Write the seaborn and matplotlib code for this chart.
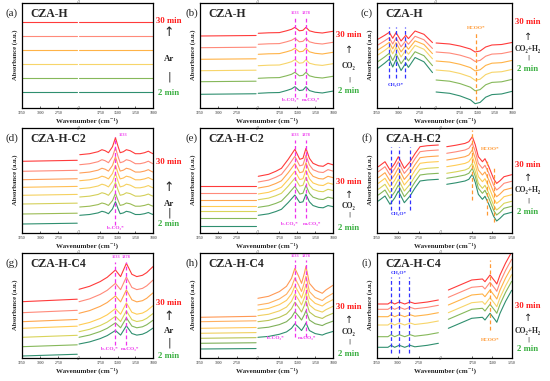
import matplotlib
matplotlib.use("Agg")
import matplotlib.pyplot as plt
import pandas as pd
import seaborn as sns

sns.set_style("white")
plt.rcParams["font.family"] = ["Liberation Serif", "DejaVu Serif"]

W, H = 550, 381
PH = 105  # panel height in px, y data runs 0..PH

# colours, top curve (30 min) first
COL6 = ["#ff3b3b", "#ff8a7a", "#ffb347", "#f7d56a", "#86b85a", "#2f8f6f"]
COL7 = ["#ff3b3b", "#ff8a7a", "#ffa64d", "#ffcc55", "#d9d45a", "#86b85a", "#2f8f6f"]
COL8 = ["#ff3b3b", "#ff8a7a", "#ff9f5a", "#ffbf55", "#f5d160", "#d4d05a", "#9cbc55", "#2f8f6f"]
COL7H = ["#ff9955", "#ffb060", "#ffc85a", "#f0d060", "#b9c455", "#7fb059", "#2f8f6f"]

# ---- (a) CZA-H, Ar
A_WN_L = [3250, 2490]
A_PR_L = [0, 0]
A_WN_R = [2045, 1000]
A_PR_R = [0, 0]
A_OFF_L = [86, 72, 58, 44, 30, 16]
A_OFF_R = [86, 72, 58, 44, 30, 16]
A_AMP = [1, 1, 1, 1, 1, 1]

# ---- (b) CZA-H, CO2
B_WN_L = [3250, 2490]
B_PR_L = [0, 0.5]
B_WN_R = [2045, 1900, 1750, 1650, 1580, 1533, 1470, 1420, 1378, 1330, 1250, 1150, 1000]
B_PR_R = [0, 0.5, 0.7, 2.5, 4, 6, 2.5, 3, 6, 2.5, 1, 0.3, 2]
B_OFF_L = [72, 60.3, 48.7, 37.3, 26.3, 13.7]
B_OFF_R = [74.7, 63.7, 53.7, 42.3, 29.7, 14.7]
B_AMP = [1, 1, 1, 1, 1, 1.1]

# ---- (c) CZA-H, CO2+H2
C_WN_L = [3240, 3200, 3160, 3106, 3066, 3027, 2968, 2913, 2882, 2804, 2700, 2600]
C_PR_L = [0, 2, 4, 7, 1, 6.7, -1.7, 4, 0.7, 8.3, 5, -3.3]
C_WN_R = [2095, 1900, 1750, 1600, 1532, 1460, 1380, 1290, 1150, 1000]
C_PR_R = [0, -1, -3, -6, -9, -8, -4, -2, -1.5, 0.5]
C_OFF_L = [68.7, 63, 58, 53, 46.3, 39.7]
C_OFF_R = [65, 56, 47, 38, 28, 16]
C_AMP = [1, 1.05, 1.1, 1.15, 1.2, 1.3]

# ---- (d) CZA-H-C2, Ar
D_WN_L = [3250, 2490]
D_PR_L = [0, 1]
D_WN_R = [2040, 1900, 1780, 1725, 1680, 1632, 1575, 1533, 1495, 1466, 1420, 1378,
          1325, 1250, 1184, 1120, 1066, 1030, 1000]
D_PR_R = [0, 1, 3, 5, 4, 2, 8, 17, 8, 2, 3, 5, 4, 1, 1, 2, 3.5, 2, 1]
D_OFF_L = [71.7, 61.7, 53.3, 45.7, 37.7, 29, 19, 9]
D_OFF_R = [78.3, 68.3, 60, 52.3, 44.3, 36, 26, 17.7]
D_AMP = [1, 1, 0.95, 0.9, 0.9, 0.85, 0.8, 0.8]

# ---- (e) CZA-H-C2, CO2
E_WN_L = [3250, 2490]
E_PR_L = [0, 0]
E_WN_R = [2045, 1900, 1800, 1721, 1626, 1533, 1465, 1420, 1378, 1330, 1279, 1200, 1138, 1070, 1000]
E_PR_R = [0, 2, 5, 8, 17, 27, 17, 18, 28, 18, 13, 10.5, 10, 13, 11.5]
E_OFF_L = [46.7, 40, 33.3, 26.7, 21.7, 15, 6.7]
E_OFF_R = [56.7, 51, 45, 39, 33.3, 25.7, 17.7]
E_AMP = [1.0, 0.95, 0.9, 0.85, 0.8, 0.78, 0.75]

# ---- (f) CZA-H-C2, CO2+H2
F_WN_L = [3234, 3155, 3095, 3040, 2996, 2925, 2857, 2798, 2738, 2650, 2520]
F_PR_L = [0, 5, -3.3, 3, 10, -1.7, 5, 13, 20, 21, 21.7]
F_WN_R = [2066, 1950, 1838, 1790, 1746, 1710, 1671, 1620, 1588, 1540, 1480, 1442, 1400, 1350, 1254]
F_PR_R = [0, 1.5, 3.3, 5, 10, 2, -10, -15, -12, -20, -32, -36.7, -34, -30, -28]
F_OFF_L = [66.3, 61.3, 55.3, 49.7, 43.7, 38, 32]
F_OFF_R = [86.3, 79.7, 73, 66.3, 59.7, 54.7, 48.7]
F_AMP = [1, 1, 1, 1, 1, 1, 1]

# ---- (g) CZA-H-C4, Ar
G_WN_L = [3250, 2490]
G_PR_L = [0, 2.5]
G_WN_R = [2050, 1900, 1750, 1650, 1533, 1460, 1378, 1300, 1230, 1150, 1089, 1000]
G_PR_R = [0, 3, 7.7, 12, 19.3, 12.7, 26, 15, 12.7, 14, 16.7, 22.7]
G_OFF_L = [56.3, 45.3, 36.3, 29.7, 20.7, 11.3, 2]
G_OFF_R = [68.7, 56.3, 44.7, 33, 26.3, 20.7, 14]
G_AMP = [1, 0.95, 0.9, 0.85, 0.8, 0.75, 0.7]

# ---- (h) CZA-H-C4, CO2
H_WN_L = [3250, 2490]
H_PR_L = [0, 1]
H_WN_R = [2050, 1900, 1750, 1650, 1580, 1533, 1480, 1440, 1400, 1378, 1330, 1250, 1150, 1100, 1000]
H_PR_R = [0, 2, 6.7, 12, 20, 30, 22, 15, 25, 32, 15, 8.3, 5, 8.3, 13]
H_OFF_L = [40.7, 36.3, 29.7, 24.7, 19.7, 14.7, 9]
H_OFF_R = [59.7, 53, 48, 42.3, 36.3, 29.7, 20.7]
H_AMP = [1.0, 0.9, 0.8, 0.72, 0.65, 0.55, 0.45]

# ---- (i) CZA-H-C4, CO2+H2
I_WN_L = [3240, 3120, 3083, 3040, 2985, 2920, 2857, 2800, 2650, 2520]
I_PR_L = [0, 0, 2, 0, 2, 0, 2, 0.5, 2, 4]
I_WN_R = [2046, 1900, 1754, 1620, 1588, 1525, 1460, 1440, 1400, 1330, 1254]
I_PR_R = [0, 5, 10, 11, 8.3, 15, 8.3, 6, 15, 27, 38]
I_OFF_L = [54, 48.7, 41.3, 33, 21.3, 10.7]
I_OFF_R = [68, 60.7, 53, 45.3, 38.7, 29.7]
I_AMP = [1, 1, 1, 1, 1, 1]

MAG, BLU, ORG = "#ee33ee", "#3333ff", "#ff9933"

fig = plt.figure(figsize=(W / 100, H / 100), dpi=100)


def ftext(x, y, s, **kw):
    fig.text(x / W, 1 - y / H, s, **kw)


def make_df(wn, prof, offs, amps):
    rows = []
    for k, (o, a) in enumerate(zip(offs, amps)):
        for w, p in zip(wn, prof):
            rows.append(("L%d" % k, w, o + a * p))
    return pd.DataFrame(rows, columns=["line", "wn", "y"])


def panel(p):
    x0, top, w, brk = p["box"]
    wl = w * brk
    bottom = 1 - (top + PH) / H
    axL = fig.add_axes([x0 / W, bottom, wl / W, PH / H])
    axR = fig.add_axes([(x0 + wl) / W, bottom, (w - wl) / W, PH / H])
    pal = {"L%d" % k: c for k, c in enumerate(p["colors"])}
    segs = [(axL, p["wnL"], p["prL"], p["offL"], p["limL"], [3250, 3000, 2750]),
            (axR, p["wnR"], p["prR"], p["offR"], p["limR"], p["ticksR"])]
    for ax, wn, pr, off, lim, ticks in segs:
        df = make_df(wn, pr, off, p["amp"])
        sns.lineplot(data=df, x="wn", y="y", hue="line", palette=pal, ax=ax,
                     legend=False, linewidth=0.8, estimator=None, sort=False)
        ax.set_xlim(lim)
        ax.set_ylim(0, PH)
        ax.set_xticks(ticks)
        ax.set_xticklabels([str(t) for t in ticks])
        ax.set_yticks([])
        ax.set_xlabel("")
        ax.set_ylabel("")
        ax.tick_params(axis="x", direction="in", length=1.5, width=0.5,
                       labelsize=2.8, pad=2.5, bottom=True)
        for s in ax.spines.values():
            s.set_linewidth(0.9)
            s.set_color("black")
    axL.spines["right"].set_visible(False)
    axR.spines["left"].set_visible(False)

    # dashed marker lines and their labels
    for wn, y0, y1, c in p.get("vlines", []):
        ax = axL if wn > 2300 else axR
        ax.plot([wn, wn], [y0, y1], color=c, lw=0.9, ls=(0, (3, 2)))
    for wn, y, s, c, fs in p.get("notes", []):
        ax = axL if wn > 2300 else axR
        ax.text(wn, y, s, color=c, fontsize=fs, ha="center", va="center",
                fontweight="bold")

    # break marks
    for yy in (top, top + PH):
        ftext(x0 + wl, yy, "//", fontsize=4, ha="center", va="center")

    # labels round the box
    ftext(x0 + w / 2, top + PH + 13, "Wavenumber (cm⁻¹)", fontsize=5,
          fontweight="bold", ha="center", va="center")
    ftext(x0 - 7, top + 52, "Absorbance (a.u.)", fontsize=4.8, fontweight="bold",
          rotation=90, ha="center", va="center")
    ftext(p["lab_x"], top + 10, p["label"], fontsize=8, ha="center", va="center")
    ftext(x0 + 8, top + 11, p["title"], fontsize=8.5, fontweight="bold",
          ha="left", va="center")

    sx = x0 + w + 16
    y30, yar, ygas, ybar, y2 = p["side"]
    big = p["gas"] == "Ar"
    ftext(sx, y30, "30 min", color="#ff1f1f", fontsize=6.3, fontweight="bold",
          ha="center", va="center")
    ftext(sx, yar, "↑", fontsize=9 if big else 7, ha="center", va="center",
          family=["DejaVu Sans"])
    ftext(sx, ygas, p["gas"], fontsize=6.3 if big else 5.5, fontweight="bold",
          ha="center", va="center")
    ftext(sx, ybar, "|", fontsize=8 if big else 4.5, ha="center", va="center",
          family=["DejaVu Sans"])
    ftext(sx, y2, "2 min", color="#3cb043", fontsize=6.3, fontweight="bold",
          ha="center", va="center")


STD_L, STD_R = (3250, 2475), (2060, 1000)
T4 = [1750, 1500, 1250, 1000]
T3 = [1750, 1500, 1250]
CO2, CO2H2 = "CO₂", "CO₂+H₂"
bCO3, mCO3, CH3O = "b-CO₃*", "m-CO₃*", "CH₃O*"

panels = [
    dict(box=(22, 3, 131, 0.43), colors=COL6, wnL=A_WN_L, prL=A_PR_L, wnR=A_WN_R, prR=A_PR_R,
         offL=A_OFF_L, offR=A_OFF_R, amp=A_AMP, limL=STD_L, limR=STD_R, ticksR=T4,
         label="(a)", lab_x=12, title="CZA-H", gas="Ar", side=(21, 33, 59, 77, 93)),
    dict(box=(200, 3, 133, 0.43), colors=COL6, wnL=B_WN_L, prL=B_PR_L, wnR=B_WN_R, prR=B_PR_R,
         offL=B_OFF_L, offR=B_OFF_R, amp=B_AMP, limL=STD_L, limR=STD_R, ticksR=T4,
         label="(b)", lab_x=192, title="CZA-H", gas=CO2, side=(35, 50, 66, 79, 91),
         vlines=[(1533, 11, 91, MAG), (1378, 11, 91, MAG)],
         notes=[(1533, 95.5, "1533", MAG, 3.2), (1378, 95.5, "1378", MAG, 3.2),
                (1600, 8.5, bCO3, MAG, 3.8), (1300, 8.5, mCO3, MAG, 3.8)]),
    dict(box=(377, 3, 135, 0.43), colors=COL6, wnL=C_WN_L, prL=C_PR_L, wnR=C_WN_R, prR=C_PR_R,
         offL=C_OFF_L, offR=C_OFF_R, amp=C_AMP, limL=(3250, 2570), limR=(2110, 1000), ticksR=T4,
         label="(c)", lab_x=367, title="CZA-H", gas=CO2H2, side=(22, 37, 49, 57, 69),
         vlines=[(3106, 30, 81, BLU), (3027, 30, 81, BLU), (2922, 30, 81, BLU), (1518, 8, 76, ORG)],
         notes=[(3030, 23, CH3O, BLU, 3.8), (1515, 80, "HCOO*", ORG, 3.8)]),
    dict(box=(22, 128, 131, 0.43), colors=COL8, wnL=D_WN_L, prL=D_PR_L, wnR=D_WN_R, prR=D_PR_R,
         offL=D_OFF_L, offR=D_OFF_R, amp=D_AMP, limL=STD_L, limR=STD_R, ticksR=T4,
         label="(d)", lab_x=12, title="CZA-H-C2", gas="Ar", side=(162, 188, 204, 213, 224),
         vlines=[(1533, 8, 96, MAG)],
         notes=[(1420, 98.5, "1533", MAG, 3.2), (1533, 5, bCO3, MAG, 3.8)]),
    dict(box=(200, 128, 133, 0.43), colors=COL7, wnL=E_WN_L, prL=E_PR_L, wnR=E_WN_R, prR=E_PR_R,
         offL=E_OFF_L, offR=E_OFF_R, amp=E_AMP, limL=STD_L, limR=STD_R, ticksR=T4,
         label="(e)", lab_x=192, title="CZA-H-C2", gas=CO2, side=(182, 195, 206, 214, 228),
         vlines=[(1533, 15, 93, MAG), (1378, 15, 93, MAG)],
         notes=[(1533, 98.5, "1533", MAG, 3.2), (1378, 98.5, "1378", MAG, 3.2),
                (1610, 9, bCO3, MAG, 3.8), (1290, 9, mCO3, MAG, 3.8)]),
    dict(box=(377, 128, 135, 0.467), colors=COL7, wnL=F_WN_L, prL=F_PR_L, wnR=F_WN_R, prR=F_PR_R,
         offL=F_OFF_L, offR=F_OFF_R, amp=F_AMP, limL=(3250, 2500), limR=(2150, 1250), ticksR=T3,
         label="(f)", lab_x=367, title="CZA-H-C2", gas=CO2H2, side=(165, 178, 190, 200, 212),
         vlines=[(3083, 23, 86, BLU), (2985, 23, 86, BLU), (2857, 23, 86, BLU),
                 (1746, 33, 103, ORG), (1567, 18, 73, ORG), (1471, 11, 65, ORG)],
         notes=[(2990, 19, CH3O, BLU, 3.8), (1520, 84, "HCOO*", ORG, 3.8)]),
    dict(box=(22, 253, 131, 0.43), colors=COL7, wnL=G_WN_L, prL=G_PR_L, wnR=G_WN_R, prR=G_PR_R,
         offL=G_OFF_L, offR=G_OFF_R, amp=G_AMP, limL=STD_L, limR=STD_R, ticksR=T4,
         label="(g)", lab_x=12, title="CZA-H-C4", gas="Ar", side=(303, 317, 331, 343, 356),
         vlines=[(1533, 13, 96, MAG), (1378, 13, 96, MAG)],
         notes=[(1533, 100.5, "1533", MAG, 3.2), (1378, 100.5, "1378", MAG, 3.2),
                (1620, 9, bCO3, MAG, 3.8), (1325, 9, mCO3, MAG, 3.8)]),
    dict(box=(200, 253, 133, 0.43), colors=COL7H, wnL=H_WN_L, prL=H_PR_L, wnR=H_WN_R, prR=H_PR_R,
         offL=H_OFF_L, offR=H_OFF_R, amp=H_AMP, limL=STD_L, limR=STD_R, ticksR=T4,
         label="(h)", lab_x=192, title="CZA-H-C4", gas=CO2, side=(307, 320, 332, 341, 354),
         vlines=[(1533, 21, 98, MAG), (1378, 21, 98, MAG)],
         notes=[(1533, 102, "1533", MAG, 3.2), (1378, 102, "1378", MAG, 3.2),
                (1800, 19.7, bCO3, MAG, 3.8), (1360, 19.7, mCO3, MAG, 3.8)]),
    dict(box=(377, 253, 135, 0.467), colors=COL6, wnL=I_WN_L, prL=I_PR_L, wnR=I_WN_R, prR=I_PR_R,
         offL=I_OFF_L, offR=I_OFF_R, amp=I_AMP, limL=(3250, 2500), limR=(2150, 1250), ticksR=T3,
         label="(i)", lab_x=367, title="CZA-H-C4", gas=CO2H2, side=(306, 318, 331, 339, 349),
         vlines=[(3083, 5, 81, BLU), (2985, 5, 81, BLU), (2866, 5, 81, BLU), (1525, 28, 98, ORG)],
         notes=[(2985, 85, CH3O, BLU, 3.8), (1525, 18, "HCOO*", ORG, 3.8)]),
]

for p in panels:
    panel(p)

fig.savefig("out.png", dpi=100)
